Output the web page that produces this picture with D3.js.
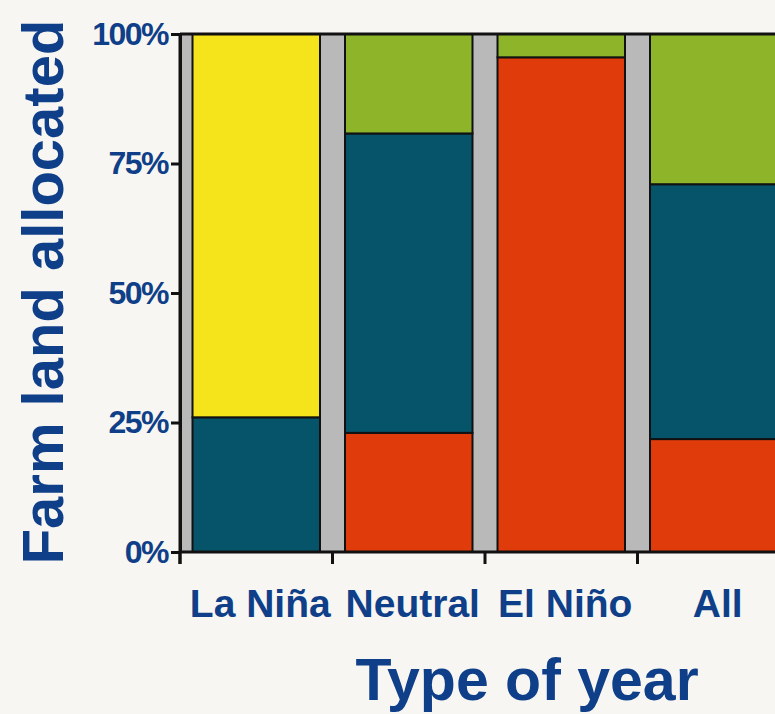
<!DOCTYPE html>
<html>
<head>
<meta charset="utf-8">
<script src="https://cdn.jsdelivr.net/npm/d3@7"></script>
<style>
  html, body { margin: 0; padding: 0; background: #f8f6f2; overflow: hidden; }
  svg { display: block; }
  text { font-family: "Liberation Sans", Arial, sans-serif; font-weight: bold; fill: #0f3f88; }
</style>
</head>
<body>
<svg id="chart" width="775" height="714"></svg>
<script>
// ---- data ----
const categories = ["La Niña", "Neutral", "El Niño", "All"];
// shares of farm land (fractions), stacked bottom to top
const redShare    = [0.00, 0.23, 0.955, 0.218];
const tealShare   = [0.26, 0.578, 0.00, 0.492];
const yellowShare = [0.74, 0.00, 0.00, 0.00];
const greenShare  = [0.00, 0.192, 0.045, 0.29];
const yTicks = [0, 0.25, 0.5, 0.75, 1];
const yTickLabels = ["0%", "25%", "50%", "75%", "100%"];
const xTitle = "Type of year";
const yTitle = "Farm land allocated";

// ---- build table ----
const keys = ["red", "teal", "yellow", "green"];
const colors = { red: "#e03b0a", teal: "#06546a", yellow: "#f5e31c", green: "#8eb52a" };
const table = categories.map((c, i) => ({
  cat: c, red: redShare[i], teal: tealShare[i], yellow: yellowShare[i], green: greenShare[i]
}));
const stacked = d3.stack().keys(keys)(table);

const svg = d3.select("#chart");
const mLeft = 180, mTop = 34, mBottom = 552, mRight = 790;

const x = d3.scaleBand().domain(categories).range([mLeft, mRight])
  .paddingInner(0.164).paddingOuter(0.082);
const y = d3.scaleLinear().domain([0, 1]).range([mBottom, mTop]);

// gray plot background
svg.append("rect").attr("x", mLeft).attr("y", mTop)
  .attr("width", mRight - mLeft).attr("height", mBottom - mTop)
  .attr("fill", "#b9b9b9");

// bars
svg.append("g").selectAll("g").data(stacked).join("g")
  .attr("fill", d => colors[d.key])
  .selectAll("rect").data(d => d.filter(s => s[1] - s[0] > 0)).join("rect")
  .attr("x", d => x(d.data.cat))
  .attr("y", d => y(d[1]))
  .attr("width", x.bandwidth())
  .attr("height", d => y(d[0]) - y(d[1]))
  .attr("stroke", "#111")
  .attr("stroke-width", 2);

// top frame line
svg.append("line").attr("x1", mLeft).attr("x2", mRight)
  .attr("y1", mTop).attr("y2", mTop)
  .attr("stroke", "#111").attr("stroke-width", 3);

// y axis
const yAxis = d3.axisLeft(y).tickValues(yTicks)
  .tickFormat((d, i) => yTickLabels[i]).tickSize(9).tickPadding(3).tickSizeOuter(0);
const gy = svg.append("g").attr("transform", `translate(${mLeft},0)`).call(yAxis);
gy.select(".domain").attr("stroke", "#111").attr("stroke-width", 3);
gy.selectAll(".tick line").attr("stroke", "#111").attr("stroke-width", 3);
gy.selectAll(".tick text").attr("font-size", 32).attr("letter-spacing", "-1.5px")
  .attr("fill", "#0f3f88").attr("font-family", "Liberation Sans, Arial, sans-serif");

// x axis baseline and boundary ticks
svg.append("line").attr("x1", mLeft).attr("x2", mRight)
  .attr("y1", mBottom).attr("y2", mBottom)
  .attr("stroke", "#111").attr("stroke-width", 3);
const boundaries = d3.range(categories.length + 1).map(i => mLeft + i * x.step());
svg.append("g").selectAll("line").data(boundaries).join("line")
  .attr("x1", d => d).attr("x2", d => d)
  .attr("y1", mBottom).attr("y2", mBottom + 12)
  .attr("stroke", "#111").attr("stroke-width", 3);
svg.append("line").attr("x1", mLeft).attr("x2", mLeft)
  .attr("y1", mTop).attr("y2", mBottom + 12)
  .attr("stroke", "#111").attr("stroke-width", 3);

// category labels
const xAxis = d3.axisBottom(x).tickSize(0).tickPadding(0);
const gx = svg.append("g").attr("transform", `translate(4,${mBottom})`).call(xAxis);
gx.select(".domain").remove();
gx.selectAll(".tick text").attr("y", 65).attr("dy", 0)
  .attr("font-size", 39).attr("fill", "#0f3f88")
  .attr("font-family", "Liberation Sans, Arial, sans-serif");

// axis titles
svg.append("text").attr("x", 527).attr("y", 700)
  .attr("text-anchor", "middle").attr("font-size", 59).text(xTitle);
svg.append("text")
  .attr("transform", "translate(63,292) rotate(-90)")
  .attr("text-anchor", "middle").attr("font-size", 58).text(yTitle);
</script>
</body>
</html>
